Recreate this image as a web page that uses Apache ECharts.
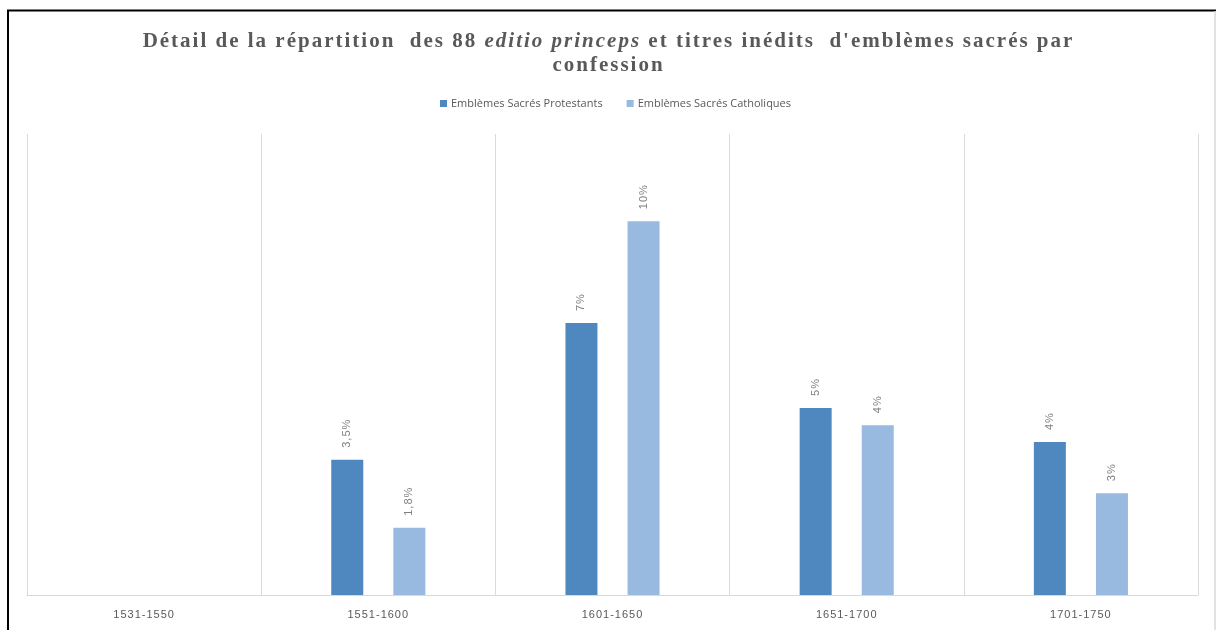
<!DOCTYPE html>
<html>
<head>
<meta charset="utf-8">
<script src="https://cdn.jsdelivr.net/npm/echarts@6/dist/echarts.min.js"></script>
<style>
html,body{margin:0;padding:0;background:#fff;}
#chart{width:1217px;height:630px;}
</style>
</head>
<body>
<div id="chart"></div>
<script>
// Data
const categories = ['1531-1550', '1551-1600', '1601-1650', '1651-1700', '1701-1750'];
const seriesNames = ['Emblèmes Sacrés Protestants', 'Emblèmes Sacrés Catholiques'];
const protestants = [null, 3.52, 7.08, 4.87, 3.98];
const catholiques = [null, 1.75, 9.73, 4.42, 2.65];
const protestantsLabels = ['', '3,5%', '7%', '5%', '4%'];
const catholiquesLabels = ['', '1,8%', '10%', '4%', '3%'];

// letter spacing for the spaced-out fonts (title and labels)
(function () {
  const P = CanvasRenderingContext2D.prototype;
  if (!('letterSpacing' in P)) return;
  const sp = f => /Liberation Serif/.test(f) ? '2px' : (/Liberation Sans/.test(f) ? '1px' : '0px');
  const of = P.fillText, os = P.strokeText, om = P.measureText;
  P.fillText = function () { this.letterSpacing = sp(this.font); return of.apply(this, arguments); };
  P.strokeText = function () { this.letterSpacing = sp(this.font); return os.apply(this, arguments); };
  P.measureText = function () { this.letterSpacing = sp(this.font); return om.apply(this, arguments); };
})();

const chart = echarts.init(document.getElementById('chart'), null, {renderer: 'canvas'});
const labelStyle = (arr) => ({
  show: true,
  position: 'top',
  rotate: 90,
  align: 'left',
  verticalAlign: 'middle',
  distance: 12,
  fontSize: 11,
  fontFamily: 'Liberation Sans',
  color: '#7f7f7f',
  formatter: p => arr[p.dataIndex]
});
const option = {
  animation: false,
  backgroundColor: '#ffffff',
  title: {
    text: "Détail de la répartition  des 88 {i|editio princeps} et titres inédits  d'emblèmes sacrés par\nconfession",
    left: 'center',
    top: 25,
    textStyle: {
      fontFamily: 'Liberation Serif',
      fontWeight: 'bold',
      fontSize: 21,
      lineHeight: 24,
      color: '#595959',
      rich: {
        i: {
          fontFamily: 'Liberation Serif',
          fontWeight: 'bold',
          fontStyle: 'italic',
          fontSize: 21,
          lineHeight: 24,
          color: '#595959'
        }
      }
    }
  },
  legend: {
    data: seriesNames,
    top: 93,
    left: 435,
    icon: 'rect',
    itemWidth: 7,
    itemHeight: 7,
    itemGap: 24,
    textStyle: {fontFamily: 'Open Sans', fontSize: 11, color: '#595959', padding: [0, 0, 0, -1]}
  },
  grid: {left: 27, right: 19, top: 134, bottom: 35, containLabel: false},
  xAxis: {
    type: 'category',
    data: categories,
    boundaryGap: true,
    axisLine: {show: true, lineStyle: {color: '#d9d9d9', width: 1}},
    axisTick: {show: false},
    splitLine: {show: true, lineStyle: {color: '#d9d9d9', width: 1}},
    axisLabel: {color: '#595959', fontSize: 11, fontFamily: 'Liberation Sans', margin: 14}
  },
  yAxis: {
    type: 'value',
    min: 0,
    max: 12,
    show: false,
    splitLine: {show: false}
  },
  series: [
    {
      name: seriesNames[0],
      type: 'bar',
      data: protestants,
      barWidth: 32,
      barGap: '94%',
      itemStyle: {color: '#4f88be'},
      label: labelStyle(protestantsLabels)
    },
    {
      name: seriesNames[1],
      type: 'bar',
      data: catholiques,
      barWidth: 32,
      barGap: '94%',
      itemStyle: {color: '#98b9e0'},
      label: labelStyle(catholiquesLabels)
    }
  ],
  graphic: [
    {type: 'line', shape: {x1: 7, y1: 10.5, x2: 1216, y2: 10.5}, style: {stroke: '#000', lineWidth: 2}, silent: true},
    {type: 'line', shape: {x1: 8, y1: 10, x2: 8, y2: 630}, style: {stroke: '#000', lineWidth: 2}, silent: true},
    {type: 'line', shape: {x1: 1215, y1: 11, x2: 1215, y2: 630}, style: {stroke: '#d9d9d9', lineWidth: 1.5}, silent: true}
  ]
};
chart.setOption(option);
</script>
</body>
</html>
